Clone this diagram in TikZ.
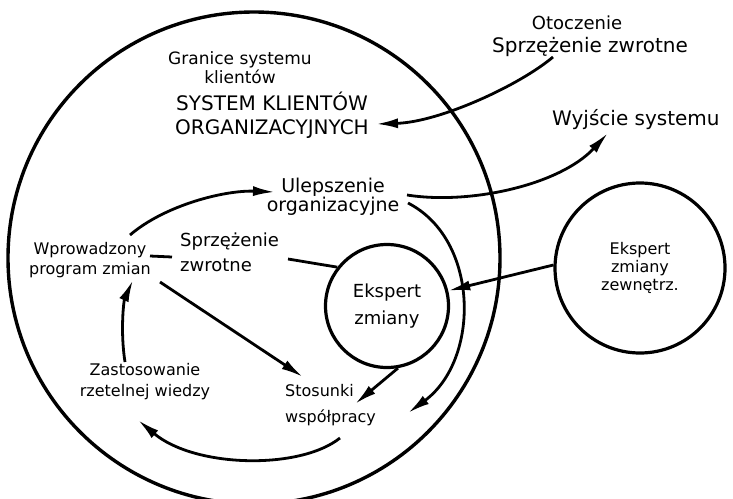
\documentclass[tikz,border=0pt]{standalone}
\usepackage{fontspec}
\setmainfont{DejaVu Sans}
\usetikzlibrary{arrows.meta,calc}
\begin{document}
\begin{tikzpicture}[x=1pt,y=-1pt]
\tikzset{
  lbl/.style={inner sep=0pt, align=center},
  ring/.style={draw, circle, line width=3.2pt, inner sep=0pt, align=center},
  arr/.style={line width=2.8pt, -{Latex[length=22pt,width=10pt]}},
  conn/.style={line width=2.8pt},
}
\useasboundingbox (0,0) rectangle (733,498);
% system boundary
\draw[line width=3.4pt] (254,258) circle [radius=246];
% labels
\node[lbl, font=\fontsize{18}{20}\selectfont] (otocz) at (577,23) {Otoczenie};
\node[lbl, font=\fontsize{20}{22}\selectfont] (sprzo) at (590,47) {Sprzężenie zwrotne};
\node[lbl, font=\fontsize{17}{19}\selectfont] (granice) at (240,67.5) {Granice systemu\\klientów};
\node[lbl, font=\fontsize{20}{24}\selectfont] (syskl) at (272,115) {SYSTEM KLIENTÓW\\ORGANIZACYJNYCH};
\node[lbl, anchor=west, font=\fontsize{20}{22}\selectfont] (wyj) at (552,120) {Wyjście systemu};
\node[lbl, font=\fontsize{19}{18}\selectfont] (ulep) at (333,197) {Ulepszenie\\organizacyjne};
\node[lbl, font=\fontsize{16}{20}\selectfont] (wpr) at (90,260) {Wprowadzony\\program zmian};
\node[lbl, align=left, anchor=west, font=\fontsize{18}{25}\selectfont] (sprzw) at (180,252) {Sprzężenie\\zwrotne};
\node[ring, minimum size=123pt, font=\fontsize{18}{27}\selectfont] (ez) at (387,306) {Ekspert\\zmiany};
\node[ring, minimum size=170pt, font=\fontsize{16}{18}\selectfont] (ezz) at (640,268) {Ekspert\\zmiany\\zewnętrz.};
\node[lbl, font=\fontsize{16}{21}\selectfont] (zast) at (145,382) {Zastosowanie\\rzetelnej wiedzy};
\node[lbl, align=left, anchor=west, font=\fontsize{16}{26}\selectfont] (stos) at (285,405) {Stosunki\\współpracy};
% connectors
\draw[arr] ($(wpr)+(40,-25)$) .. controls +(35,-30) and +(-50,-2) .. ($(ulep)+(-58,-5)$);
\draw[conn] ($(wpr)+(60,-4)$) -- ($(sprzw.west)+(-8,5)$);
\draw[conn] ($(sprzw.west)+(108,7)$) -- (ez.142);
\draw[arr] ($(wpr)+(70,22)$) -- ($(stos.west)+(18,-28)$);
\draw[arr] ($(zast)+(-20,-20)$) .. controls +(-5,-32) and +(-9,20) .. ($(wpr)+(43,20)$);
\draw[arr] ($(stos.west)+(55,33)$) .. controls +(-40,32) and +(57,48) .. ($(zast)+(-7,38)$);
\draw[arr] (ez.280) -- ($(stos.west)+(70,-1)$);
\draw[arr] ($(ulep)+(75,6)$) .. controls +(72,37) and +(72,-53) .. ($(stos.west)+(123,8)$);
\draw[arr] (ezz.178) -- (ez.14);
\draw[arr] ($(sprzo)+(-37,10)$) .. controls +(-33,28) and +(64,-2) .. ($(syskl)+(104,9)$);
\draw[arr] ($(ulep)+(74,-2)$) .. controls +(63,10) and +(-48,52) .. ($(wyj.west)+(56,13)$);
\end{tikzpicture}
\end{document}
